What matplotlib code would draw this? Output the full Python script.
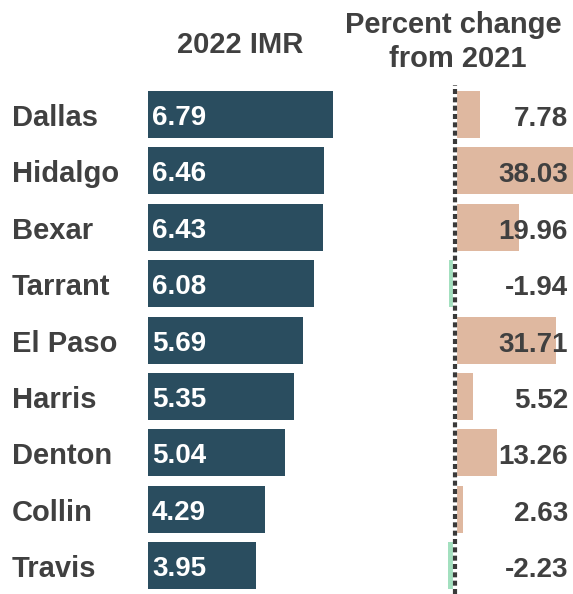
import matplotlib
matplotlib.use("Agg")
import matplotlib.pyplot as plt
import matplotlib.transforms as mtransforms

counties = ["Dallas", "Hidalgo", "Bexar", "Tarrant", "El Paso", "Harris", "Denton", "Collin", "Travis"]
imr_2022 = [6.79, 6.46, 6.43, 6.08, 5.69, 5.35, 5.04, 4.29, 3.95]
pct_change = [7.78, 38.03, 19.96, -1.94, 31.71, 5.52, 13.26, 2.63, -2.23]

W, H = 573, 594
fig = plt.figure(figsize=(W / 100, H / 100), dpi=100)
plt.rcParams['font.family'] = ['Liberation Sans', 'DejaVu Sans']

TEXT = '#404040'
TEAL = '#2a4d5f'
TAN = '#dfb8a0'
GREEN = '#a3e0bf'

top_px, bot_px = 85, 594
ax_bottom = 1 - bot_px / H
ax_height = (bot_px - top_px) / H
row0, step = 114.5, 56.4
ylim = ((bot_px - row0) / step, (top_px - row0) / step)


def down(px):
    return mtransforms.ScaledTranslation(0, -px / 100, fig.dpi_scale_trans)


# Left panel
axl = fig.add_axes([148 / W, ax_bottom, 272.5 / W, ax_height])
y = list(range(len(counties)))
axl.barh(y, imr_2022, height=0.83, color=TEAL)
axl.set_xlim(0, 10)
axl.set_ylim(*ylim)
axl.axis('off')
for yi, v in zip(y, imr_2022):
    axl.text(0.15, yi, f"{v:.2f}", color='white', fontsize=20, fontweight='bold',
             va='baseline', ha='left', transform=axl.transData + down(10.5))

# Right panel
axr = fig.add_axes([400 / W, ax_bottom, 173 / W, ax_height])
colors = [TAN if v >= 0 else GREEN for v in pct_change]
axr.barh(y, pct_change, height=0.83, color=colors)
axr.set_xlim(-55 / 3.2, 118 / 3.2)
axr.set_ylim(*ylim)
axr.axis('off')
axr.axvline(0, color='white', lw=3, zorder=3)
axr.axvline(0, color='#3a3a3a', lw=3, linestyle=(0, (1.2, 0.8)), zorder=4)

trans = mtransforms.blended_transform_factory(fig.transFigure, axr.transData)
for yi, v in zip(y, pct_change):
    axr.text(568 / W, yi, f"{v:.2f}", transform=trans + down(11.5), color=TEXT, fontsize=20,
             fontweight='bold', va='baseline', ha='right', zorder=5)

# Category labels
transl = mtransforms.blended_transform_factory(fig.transFigure, axl.transData)
for yi, c in zip(y, counties):
    axl.text(12 / W, yi, c, transform=transl + down(11.5), color=TEXT, fontsize=21,
             fontweight='bold', va='baseline', ha='left', clip_on=False)

# Headers
fig.text(240 / W, 1 - 53 / H, "2022 IMR", color=TEXT, fontsize=21, fontweight='bold',
         ha='center', va='baseline')
fig.text(453 / W, 1 - 33 / H, "Percent change", color=TEXT, fontsize=21,
         fontweight='bold', ha='center', va='baseline')
fig.text(458 / W, 1 - 67 / H, "from 2021", color=TEXT, fontsize=21,
         fontweight='bold', ha='center', va='baseline')

fig.savefig("out.png", dpi=100)
